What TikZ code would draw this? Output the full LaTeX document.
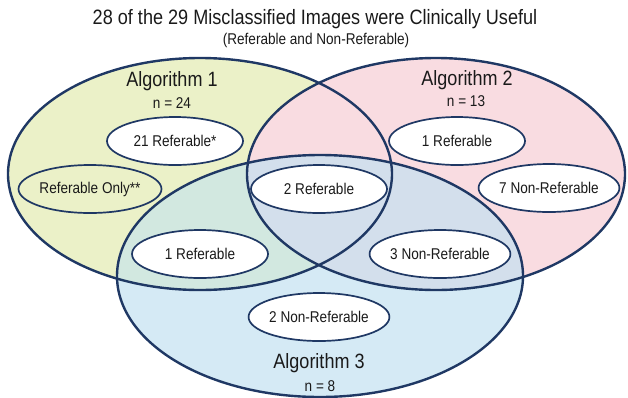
\documentclass[tikz,border=0pt]{standalone}
\usepackage{fontspec}
\setmainfont{Liberation Sans}[FakeStretch=0.87]
\usetikzlibrary{shapes.geometric}
\definecolor{navy}{HTML}{1F3864}
\definecolor{cone}{HTML}{EBF1C8}
\definecolor{ctwo}{HTML}{F9DCE1}
\definecolor{cthree}{HTML}{D5EAF5}
\definecolor{conethree}{HTML}{D2E8E0}
\definecolor{ctwothree}{HTML}{D3DFEC}
\definecolor{txt}{HTML}{1A1A1A}
\tikzset{
  bigline/.style={draw=navy, line width=2.4pt},
  inner/.style={ellipse, draw=navy, line width=1.7pt, fill=white,
    minimum width=136pt, minimum height=48pt, inner sep=0pt,
    font=\fontsize{15.6}{18}\selectfont, text=txt},
  alglabel/.style={font=\fontsize{20.7}{24}\selectfont, text=txt, inner sep=0pt},
  nlabel/.style={font=\fontsize{15.6}{18}\selectfont, text=txt, inner sep=0pt},
}
\begin{document}
\begin{tikzpicture}[x=1pt,y=-1pt]
\useasboundingbox (0,0) rectangle (628,397);
\def\Eone{(200,174) ellipse (192 and 116)}
\def\Etwo{(436,174) ellipse (189 and 116)}
\def\Ethree{(320,276) ellipse (203 and 121)}
\fill[cone] \Eone;
\fill[ctwo] \Etwo;
\fill[cthree] \Ethree;
\begin{scope}\clip \Eone; \fill[conethree] \Ethree; \end{scope}
\begin{scope}\clip \Etwo; \fill[ctwothree] \Ethree; \end{scope}
\draw[bigline] \Eone;
\draw[bigline] \Etwo;
\draw[bigline] \Ethree;

\node[font=\fontsize{20.8}{24}\selectfont, text=txt, inner sep=0pt] (title) at (315,19) {28 of the 29 Misclassified Images were Clinically Useful};
\node[nlabel] (sub) at (316,40) {(Referable and Non-Referable)};

\node[alglabel] (a1) at (172,81) {Algorithm 1};
\node[nlabel] (n1) at (172,103) {n = 24};
\node[alglabel] (a2) at (467,80) {Algorithm 2};
\node[nlabel] (n2) at (466,101) {n = 13};
\node[alglabel] (a3) at (319,363) {Algorithm 3};
\node[nlabel] (n3) at (320,386) {n = 8};

\node[inner] (r21) at (175,141) {21 Referable*};
\node[inner, fill=cone] (ronly) at (90,189) {Referable Only**};
\node[inner] (r1a) at (200,254) {1 Referable};
\node[inner] (r2) at (319,189) {2 Referable};
\node[inner] (r1b) at (457,141) {1 Referable};
\node[inner] (n7) at (549,188) {7 Non-Referable};
\node[inner] (n3b) at (440,254) {3 Non-Referable};
\node[inner] (n2b) at (319,317) {2 Non-Referable};
\end{tikzpicture}
\end{document}
